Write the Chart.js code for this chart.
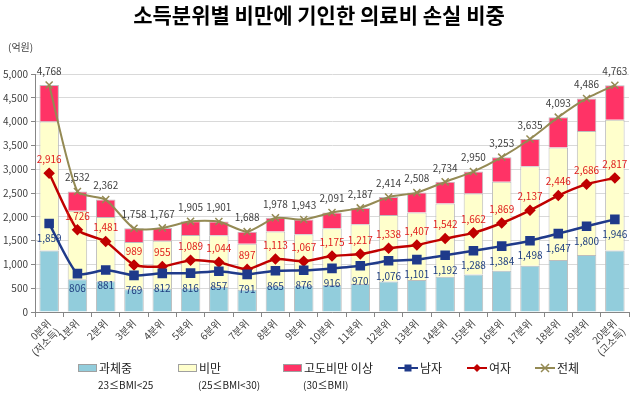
<!DOCTYPE html>
<html>
<head>
<meta charset="utf-8">
<script src="https://cdn.jsdelivr.net/npm/chart.js@4.4.1/dist/chart.umd.min.js"></script>
<style>
html,body{margin:0;padding:0;background:#fff;}
#wrap{position:relative;width:638px;height:393px;}
</style>
</head>
<body>
<div id="wrap"><canvas id="myChart"></canvas></div>
<script>
// categories
const labels = [['0분위','(저소득)'],'1분위','2분위','3분위','4분위','5분위','6분위','7분위','8분위','9분위','10분위',
  '11분위','12분위','13분위','14분위','15분위','16분위','17분위','18분위','19분위',['20분위','(고소득)']];

// stacked bars (억원)
const overweight = [1290,690,645,480,490,495,525,470,540,550,565,590,640,670,740,790,865,970,1090,1195,1290];
const obese      = [2710,1435,1350,990,1005,1125,1085,965,1150,1085,1195,1255,1400,1420,1540,1700,1870,2090,2365,2610,2750];
const severe     = [768,407,367,288,272,285,291,253,288,308,331,342,374,418,454,460,518,575,638,681,723];

// lines
const male   = [1859,806,881,769,812,816,857,791,865,876,916,970,1076,1101,1192,1288,1384,1498,1647,1800,1946];
const female = [2916,1726,1481,989,955,1089,1044,897,1113,1067,1175,1217,1338,1407,1542,1662,1869,2137,2446,2686,2817];
const total  = [4768,2532,2362,1758,1767,1905,1901,1688,1978,1943,2091,2187,2414,2508,2734,2950,3253,3635,4093,4486,4763];

const FONT = "'Noto Sans CJK KR', 'Noto Sans', sans-serif";
Chart.defaults.font.family = FONT;
Chart.defaults.color = '#404040';

// value labels on the lines + title, unit, legend
const extras = {
  id: 'extras',
  afterDatasetsDraw(chart) {
    const ctx = chart.ctx;
    ctx.save();
    ctx.font = '10px ' + FONT;
    ctx.textAlign = 'center';
    ctx.textBaseline = 'middle';
    [[3, 15, '#1F3F80'], [4, -14, '#E0201E'], [5, -14, '#404040']].forEach(function(d) {
      const meta = chart.getDatasetMeta(d[0]);
      const vals = chart.data.datasets[d[0]].data;
      ctx.fillStyle = d[2];
      meta.data.forEach(function(pt, i) {
        ctx.fillText(vals[i].toLocaleString('en-US'), pt.x, pt.y + d[1]);
      });
    });
    ctx.restore();
  },
  afterDraw(chart) {
    const ctx = chart.ctx;
    ctx.save();
    ctx.fillStyle = '#000';
    ctx.textAlign = 'center';
    ctx.textBaseline = 'middle';
    ctx.font = 'bold 21px ' + FONT;
    ctx.fillText('소득분위별 비만에 기인한 의료비 손실 비중', 319, 15);

    ctx.textAlign = 'left';
    ctx.fillStyle = '#404040';
    ctx.font = '10px ' + FONT;
    ctx.fillText('(억원)', 8, 47);

    // legend
    const y1 = 368, y2 = 385;
    const boxes = [[78,'#92CDDC','과체중','23≤BMI<25'],[178,'#FFFFCC','비만','(25≤BMI<30)'],[283,'#FF3366','고도비만 이상','(30≤BMI)']];
    boxes.forEach(function(b) {
      ctx.fillStyle = b[1];
      ctx.fillRect(b[0], y1 - 4, 19, 8);
      ctx.strokeStyle = '#a0a0a0';
      ctx.lineWidth = 1;
      ctx.strokeRect(b[0] + 0.5, y1 - 3.5, 18, 7);
      ctx.fillStyle = '#222';
      ctx.font = '12px ' + FONT;
      ctx.fillText(b[2], b[0] + 21, y1);
      ctx.font = '10px ' + FONT;
      ctx.fillText(b[3], b[0] + 20, y2);
    });
    const lines = [[398,'#1F3A8A','rect','남자'],[467,'#C00000','diamond','여자'],[535,'#948A54','x','전체']];
    lines.forEach(function(l) {
      const x = l[0], cx = x + 10;
      ctx.strokeStyle = l[1];
      ctx.fillStyle = l[1];
      ctx.lineWidth = 2;
      ctx.beginPath(); ctx.moveTo(x, y1); ctx.lineTo(x + 20, y1); ctx.stroke();
      if (l[2] === 'rect') {
        ctx.fillRect(cx - 3.5, y1 - 3.5, 7, 7);
      } else if (l[2] === 'diamond') {
        ctx.beginPath(); ctx.moveTo(cx, y1 - 4); ctx.lineTo(cx + 4, y1); ctx.lineTo(cx, y1 + 4); ctx.lineTo(cx - 4, y1); ctx.closePath(); ctx.fill();
      } else {
        ctx.lineWidth = 1.5;
        ctx.beginPath(); ctx.moveTo(cx - 4, y1 - 4); ctx.lineTo(cx + 4, y1 + 4);
        ctx.moveTo(cx + 4, y1 - 4); ctx.lineTo(cx - 4, y1 + 4); ctx.stroke();
      }
      ctx.fillStyle = '#222';
      ctx.font = '12px ' + FONT;
      ctx.fillText(l[3], x + 22, y1);
    });
    ctx.restore();
  }
};

const barStyle = { stack: 'bars', order: 2, borderColor: '#bdbdbd', borderWidth: 1, barPercentage: 0.69, categoryPercentage: 1 };

new Chart(document.getElementById('myChart'), {
  type: 'bar',
  data: {
    labels: labels,
    datasets: [
      Object.assign({ label: '과체중', data: overweight, backgroundColor: '#92CDDC' }, barStyle),
      Object.assign({ label: '비만', data: obese, backgroundColor: '#FFFFCC' }, barStyle),
      Object.assign({ label: '고도비만 이상', data: severe, backgroundColor: '#FF3366' }, barStyle),
      { type: 'line', label: '남자', data: male, stack: 'm', order: 1, borderColor: '#1F3A8A', backgroundColor: '#1F3A8A',
        borderWidth: 2.5, pointStyle: 'rect', pointRadius: 5, tension: 0.2 },
      { type: 'line', label: '여자', data: female, stack: 'f', order: 1, borderColor: '#C00000', backgroundColor: '#C00000',
        borderWidth: 2.5, pointStyle: 'rectRot', pointRadius: 4, tension: 0.2 },
      { type: 'line', label: '전체', data: total, stack: 't', order: 1, borderColor: '#948A54', backgroundColor: '#948A54',
        borderWidth: 2, pointStyle: 'crossRot', pointRadius: 5, pointBorderWidth: 1.5, tension: 0.2 }
    ]
  },
  options: {
    responsive: true,
    maintainAspectRatio: false,
    animation: false,
    layout: { padding: { left: 0, right: 9, top: 74, bottom: 0 } },
    plugins: { legend: { display: false }, title: { display: false }, tooltip: { enabled: false } },
    scales: {
      x: {
        stacked: true,
        grid: { display: true, drawOnChartArea: false, drawTicks: true, tickLength: 5, color: '#868686' },
        border: { color: '#868686' },
        ticks: { minRotation: 45, maxRotation: 45, autoSkip: false, font: { size: 10 }, color: '#404040', padding: 0 },
        afterFit: function(s) { s.height = 81; s.paddingLeft = 0; s.paddingRight = 0; }
      },
      y: {
        stacked: true,
        min: 0, max: 5000,
        grid: { color: '#d9d9d9', tickColor: '#868686', tickLength: 4 },
        border: { color: '#868686' },
        ticks: { stepSize: 500, font: { size: 10 }, color: '#404040', padding: 3,
          callback: function(v) { return v.toLocaleString('en-US'); } },
        afterFit: function(s) { s.width = 35; }
      }
    }
  },
  plugins: [extras]
});
</script>
</body>
</html>
